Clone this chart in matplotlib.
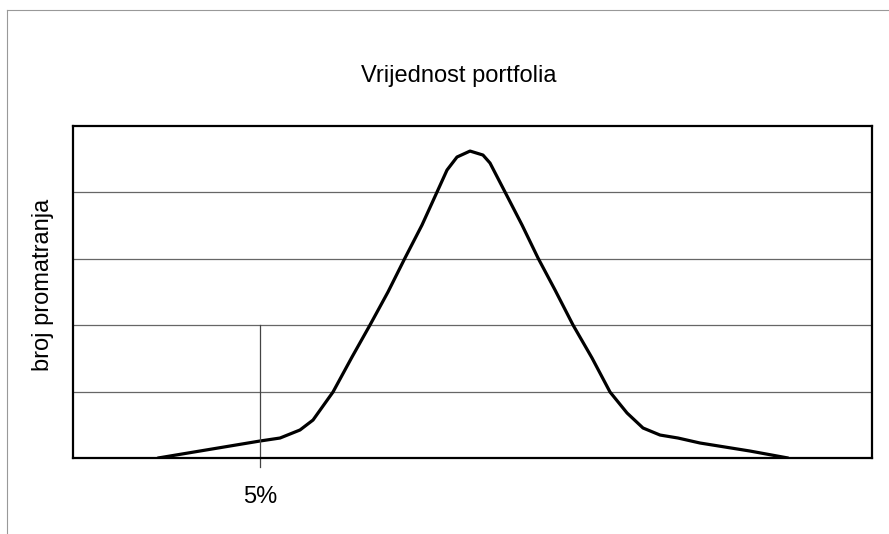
import matplotlib.pyplot as plt
from matplotlib.lines import Line2D

plt.rcParams['font.family'] = ['Liberation Sans', 'DejaVu Sans']

# krivulja distribucije vrijednosti portfolia (procijenjeno s grafa)
x_vals = [10.64, 23.40, 25.91, 28.41, 30.04, 32.54, 34.92, 37.17, 39.42, 41.55,
          43.68, 45.56, 46.81, 48.06, 49.69, 51.31, 52.19, 54.07, 56.20, 58.20,
          60.33, 62.58, 64.96, 67.21, 69.34, 71.34, 73.47, 75.72, 78.47, 84.73, 89.49]
y_vals = [0.0, 0.256, 0.301, 0.422, 0.572, 0.994, 1.521, 2.003, 2.500, 3.012,
          3.509, 4.006, 4.337, 4.533, 4.623, 4.563, 4.443, 4.006, 3.509, 3.012,
          2.530, 2.003, 1.506, 0.994, 0.678, 0.452, 0.346, 0.301, 0.226, 0.105, 0.0]

var_x = 23.4       # granica 5%
var_top = 2.0
var_label = '5%'

fig = plt.figure(figsize=(8.89, 5.34), dpi=100)
ax = fig.add_axes([0.0821, 0.1423, 0.8988, 0.6217])

ax.plot(x_vals, y_vals, color='black', linewidth=2.3,
        solid_capstyle='round', solid_joinstyle='round')
ax.plot([var_x, var_x], [var_top, -0.13], color='#444444', linewidth=0.9, clip_on=False)
ax.text(var_x, -0.59, var_label, ha='center', va='center', fontsize=17)

ax.set_xlim(0, 100)
ax.set_ylim(0, 5)
ax.set_yticks([1, 2, 3, 4])
ax.set_xticks([])
ax.tick_params(axis='y', length=0, labelleft=False)
ax.grid(axis='y', color='#666666', linewidth=0.9)
for s in ax.spines.values():
    s.set_linewidth(1.6)
    s.set_color('black')

fig.text(459 / 889, 1 - 76 / 534, 'Vrijednost portfolia', ha='center', va='center', fontsize=17)
fig.text(43 / 889, 1 - 285 / 534, 'broj promatranja', ha='center', va='center',
         rotation=90, fontsize=17)

# okvir skeniranog grafa
fig.add_artist(Line2D([7 / 889, 7 / 889], [1 - 10 / 534, 0], color='#999999', linewidth=0.8))
fig.add_artist(Line2D([7 / 889, 1], [1 - 10 / 534, 1 - 10 / 534], color='#999999', linewidth=0.8))

fig.savefig('out.png', dpi=100)
